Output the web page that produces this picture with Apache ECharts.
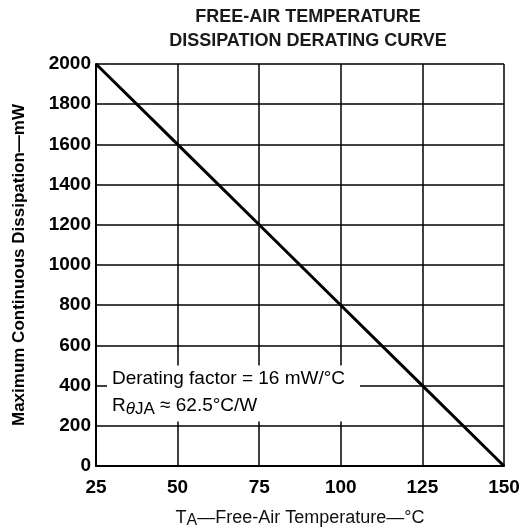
<!DOCTYPE html>
<html>
<head>
<meta charset="utf-8">
<script src="https://cdn.jsdelivr.net/npm/echarts@6/dist/echarts.min.js"></script>
<style>
html,body{margin:0;padding:0;background:#fff;}
#chart{width:520px;height:532px;}
</style>
</head>
<body>
<div id="chart"></div>
<script>
// Data
const temperatures = [25, 50, 75, 100, 125, 150];          // °C
const dissipation = [2000, 1600, 1200, 800, 400, 0];       // mW
const xTicks = [25, 50, 75, 100, 125, 150];
const yTicks = [0, 200, 400, 600, 800, 1000, 1200, 1400, 1600, 1800, 2000];
const titleLines = ['FREE-AIR TEMPERATURE', 'DISSIPATION DERATING CURVE'];
const annotationLine1 = 'Derating factor = 16 mW/°C';
const annotationAnchor = [25, 400]; // data point where the annotation sits

const FONT = '"Liberation Sans", Arial, Helvetica, sans-serif';
const chart = echarts.init(document.getElementById('chart'), null, {renderer: 'canvas'});

const option = {
  animation: false,
  backgroundColor: '#fff',
  title: {
    text: titleLines.join('\n'),
    left: 308, top: 5, padding: 0,
    textAlign: 'center',
    textStyle: {fontFamily: FONT, fontSize: 18, fontWeight: 'bold', color: '#1a1a1a', lineHeight: 24}
  },
  grid: {left: 96, right: 16, top: 64, bottom: 66, containLabel: false, outerBoundsMode: 'none'},
  xAxis: {
    type: 'value', min: xTicks[0], max: xTicks[xTicks.length - 1], interval: 25,
    name: '{n|T}{s|A}{n|—Free-Air Temperature—°C}',
    nameLocation: 'middle', nameGap: 41,
    nameTextStyle: {
      rich: {
        n: {fontFamily: FONT, fontSize: 18, color: '#111', lineHeight: 22, verticalAlign: 'middle'},
        s: {fontFamily: FONT, fontSize: 16, color: '#111', lineHeight: 14, verticalAlign: 'bottom'}
      }
    },
    axisLine: {show: true, lineStyle: {color: '#000', width: 2}},
    axisTick: {show: false},
    axisLabel: {fontFamily: FONT, fontSize: 19, fontWeight: 'bold', color: '#000', margin: 12,
                formatter: v => String(v)},
    splitLine: {show: true, lineStyle: {color: '#000', width: 1.5}}
  },
  yAxis: {
    type: 'value', min: yTicks[0], max: yTicks[yTicks.length - 1], interval: 200,
    name: 'Maximum Continuous Dissipation—mW',
    nameLocation: 'middle', nameGap: 68,
    nameTextStyle: {fontFamily: FONT, fontSize: 17, fontWeight: 'bold', color: '#000'},
    axisLine: {show: true, lineStyle: {color: '#000', width: 2}},
    axisTick: {show: false},
    axisLabel: {fontFamily: FONT, fontSize: 19, fontWeight: 'bold', color: '#000', margin: 5,
                formatter: v => String(v)},
    splitLine: {show: true, lineStyle: {color: '#000', width: 1.5}}
  },
  series: [{
    type: 'line',
    data: temperatures.map((t, i) => [t, dissipation[i]]),
    symbol: 'none',
    lineStyle: {color: '#000', width: 3},
    z: 5
  }]
};
chart.setOption(option);

const p = chart.convertToPixel({gridIndex: 0}, annotationAnchor);
chart.setOption({
  graphic: [
    {type: 'rect', shape: {x: p[0] + 11, y: p[1] - 20, width: 253, height: 56},
     style: {fill: '#fff'}, z: 10},
    {type: 'text', x: p[0] + 16, y: p[1] - 7, z: 11,
     style: {text: annotationLine1, fontFamily: FONT, fontSize: 19, fill: '#000',
             verticalAlign: 'middle', align: 'left'}},
    {type: 'text', x: p[0] + 16, y: p[1] + 20, z: 11,
     style: {text: '{n|R}{t|θ}{s|JA}{n| ≈ 62.5°C/W}', verticalAlign: 'middle', align: 'left',
             rich: {
               n: {fontFamily: FONT, fontSize: 19, fill: '#000', lineHeight: 24, verticalAlign: 'middle'},
               t: {fontFamily: FONT, fontSize: 17, fontStyle: 'italic', fill: '#000', lineHeight: 16, verticalAlign: 'bottom'},
               s: {fontFamily: FONT, fontSize: 17, fill: '#000', lineHeight: 16, verticalAlign: 'bottom'}
             }}}
  ]
});
</script>
</body>
</html>
